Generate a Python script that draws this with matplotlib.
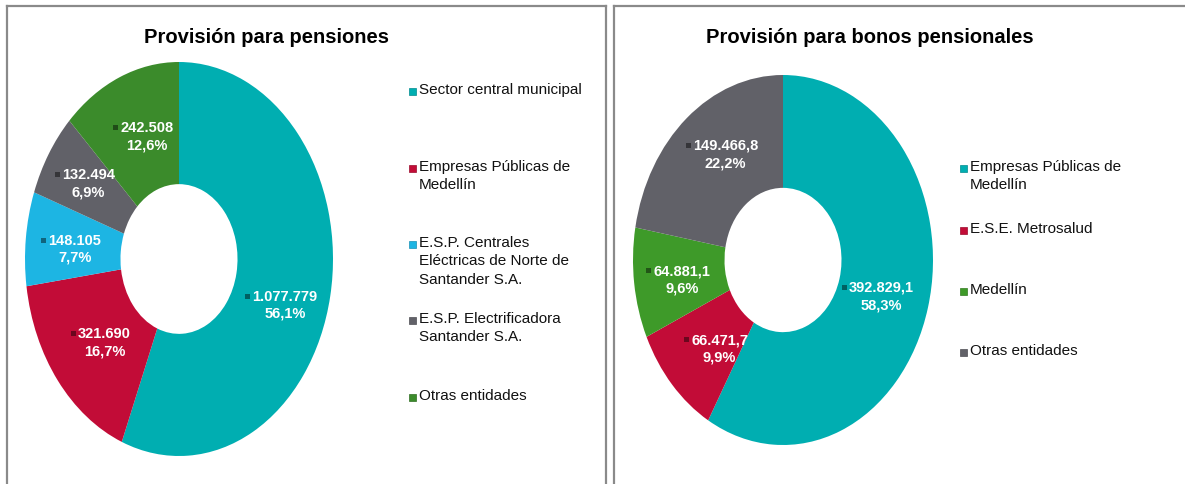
import matplotlib
matplotlib.use("Agg")
import matplotlib.pyplot as plt
import matplotlib.colors as mcolors
from matplotlib.lines import Line2D
from matplotlib.patches import Rectangle
import numpy as np

plt.rcParams["font.family"] = ["Liberation Sans", "DejaVu Sans"]

# --- data -------------------------------------------------------------------
pens_labels = [
    "Sector central municipal",
    "Empresas Públicas de\nMedellín",
    "E.S.P. Centrales\nEléctricas de Norte de\nSantander S.A.",
    "E.S.P. Electrificadora\nSantander S.A.",
    "Otras entidades",
]
pens_values = [1077779, 321690, 148105, 132494, 242508]
pens_value_text = ["1.077.779", "321.690", "148.105", "132.494", "242.508"]
pens_pct_text = ["56,1%", "16,7%", "7,7%", "6,9%", "12,6%"]

bonos_labels = [
    "Empresas Públicas de\nMedellín",
    "E.S.E. Metrosalud",
    "Medellín",
    "Otras entidades",
]
bonos_values = [392829.1, 66471.7, 64881.1, 149466.8]
bonos_value_text = ["392.829,1", "66.471,7", "64.881,1", "149.466,8"]
bonos_pct_text = ["58,3%", "9,9%", "9,6%", "22,2%"]

TEAL = "#00AEB1"
RED = "#C20C37"
LBLUE = "#1DB5E3"
GRAY = "#616168"
GREEN = "#3B8B2B"
GREEN2 = "#3E9A29"

pens_colors = [TEAL, RED, LBLUE, GRAY, GREEN]
bonos_colors = [TEAL, RED, GREEN2, GRAY]

# pixel nudges for data labels (x, y-down), same order as the wedges
pens_nudge = [(3, 20), (8, 0), (0, 3), (-2, -5), (8, 0)]
bonos_nudge = [(0, 3), (12, 3), (0, 3), (8, -10)]

W, H = 1185, 485
fig = plt.figure(figsize=(W / 100, H / 100), dpi=100)
fig.patch.set_facecolor("white")


def px_axes(cx, cy, rx, ry):
    # cx, cy in image pixels (y from top)
    return fig.add_axes([(cx - rx) / W, (H - cy - ry) / H, 2 * rx / W, 2 * ry / H])


def darker(c, f=0.55):
    r, g, b = mcolors.to_rgb(c)
    return (r * f, g * f, b * f)


def donut(ax, values, colors, vtexts, ptexts, nudges, hole=0.37):
    wedges, _ = ax.pie(values, colors=colors, startangle=90, counterclock=False,
                       radius=1.0, wedgeprops=dict(width=1 - hole, edgecolor="none"))
    ax.set_aspect("auto")
    ax.set_xlim(-1, 1)
    ax.set_ylim(-1, 1)
    ax.axis("off")
    bbox = ax.get_position()
    sx = 2 / (bbox.width * W)
    sy = 2 / (bbox.height * H)
    texts = []
    for w, vt, pt, c, (nx, ny) in zip(wedges, vtexts, ptexts, colors, nudges):
        ang = np.deg2rad((w.theta1 + w.theta2) / 2)
        r = 0.68
        x = r * np.cos(ang) + nx * sx
        y = r * np.sin(ang) - ny * sy
        t = ax.text(x, y, vt + "\n" + pt, ha="center", va="center", color="white",
                    fontsize=10.5, fontweight="bold", linespacing=1.3)
        texts.append((t, c))
    return wedges, texts


def legend_block(x_text, ys, labels, colors):
    for y, lab, c in zip(ys, labels, colors):
        fig.text(x_text / W, 1 - y / H, lab, ha="left", va="top", fontsize=11,
                 color="#111111", linespacing=1.4)
        fig.add_artist(Rectangle(((x_text - 10) / W, 1 - (y + 13) / H), 7 / W, 7 / H,
                                 facecolor=c, edgecolor=darker(c, 0.8), lw=0.5,
                                 transform=fig.transFigure))


# panel frames
frame_kw = dict(color="#8a8a8a", lw=1.6, transform=fig.transFigure)
for x0, x1 in [(7, 606), (614, 1190)]:
    fig.add_artist(Line2D([x0 / W, x0 / W], [0, 1 - 7 / H], **frame_kw))
    fig.add_artist(Line2D([x0 / W, x1 / W], [1 - 7 / H, 1 - 7 / H], **frame_kw))
    fig.add_artist(Line2D([x1 / W, x1 / W], [0, 1 - 7 / H], **frame_kw))

# left chart
ax1 = px_axes(179, 260, 154, 197)
_, t1 = donut(ax1, pens_values, pens_colors, pens_value_text, pens_pct_text,
              pens_nudge, hole=0.38)
fig.text(266 / W, 1 - 38 / H, "Provisión para pensiones", ha="center", va="center",
         fontsize=14.5, fontweight="bold")
legend_block(419, [83, 160, 236, 312, 389], pens_labels, pens_colors)

# right chart
ax2 = px_axes(783, 261, 150, 185)
_, t2 = donut(ax2, bonos_values, bonos_colors, bonos_value_text, bonos_pct_text,
              bonos_nudge, hole=0.39)
fig.text(870 / W, 1 - 38 / H, "Provisión para bonos pensionales", ha="center",
         va="center", fontsize=14.5, fontweight="bold")
legend_block(970, [160, 222, 283, 344], bonos_labels, bonos_colors)

# small leader marks beside data labels
renderer = fig.canvas.get_renderer()
for t, c in t1 + t2:
    bb = t.get_window_extent(renderer)
    x = bb.x0 - 7
    y = bb.y1 - 10
    fig.add_artist(Rectangle((x / W, y / H), 5 / W, 5 / H, facecolor=darker(c),
                             edgecolor="none", transform=fig.transFigure))

fig.savefig("out.png", dpi=100)
